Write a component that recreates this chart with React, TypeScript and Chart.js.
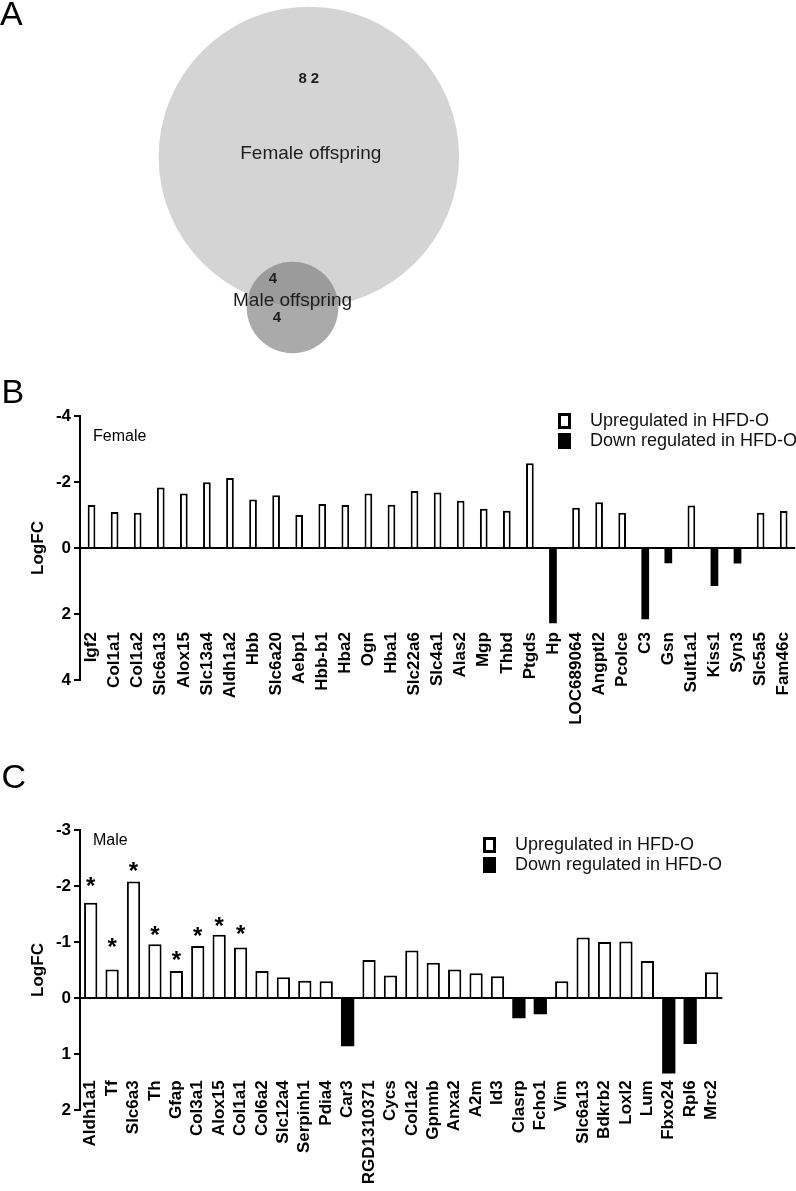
import React, { useEffect, useRef } from 'react';
import { Chart, registerables } from 'chart.js';

Chart.register(...registerables);

const FONT = "'Liberation Sans', Arial, Helvetica, sans-serif";

// ---------- Panel A: Venn diagram ----------
const vennSetNames = ['Female offspring', 'Male offspring'];
const vennUniqueCounts = [82, 4];
const vennSharedCount = 4;
const vennCenterX = [38.8, 36.75];
const vennCenterY = [42.4, 83.1];
const vennColors = ['#d4d4d4', 'rgba(125,125,125,0.65)'];

// ---------- Panel B: Female ----------
const femaleGenes = [
  'Igf2', 'Col1a1', 'Col1a2', 'Slc6a13', 'Alox15', 'Slc13a4', 'Aldh1a2', 'Hbb', 'Slc6a20', 'Aebp1',
  'Hbb-b1', 'Hba2', 'Ogn', 'Hba1', 'Slc22a6', 'Slc4a1', 'Alas2', 'Mgp', 'Thbd', 'Ptgds',
  'Hp', 'LOC689064', 'Angptl2', 'Pcolce', 'C3', 'Gsn', 'Sult1a1', 'Kiss1', 'Syn3', 'Slc5a5', 'Fam46c',
];
const femaleLogFC = [
  -1.30, -1.09, -1.07, -1.83, -1.65, -1.99, -2.12, -1.47, -1.60, -1.00,
  -1.33, -1.30, -1.65, -1.31, -1.73, -1.68, -1.43, -1.19, -1.13, -2.57,
  2.28, -1.22, -1.39, -1.07, 2.16, 0.46, -1.29, 1.15, 0.47, -1.07, -1.12,
];
const femaleYRange = [-4, 4];
const femaleYStep = 2;

// ---------- Panel C: Male ----------
const maleGenes = [
  'Aldh1a1', 'Tf', 'Slc6a3', 'Th', 'Gfap', 'Col3a1', 'Alox15', 'Col1a1', 'Col6a2', 'Slc12a4',
  'Serpinh1', 'Pdia4', 'Car3', 'RGD1310371', 'Cycs', 'Col1a2', 'Gpnmb', 'Anxa2', 'A2m', 'Id3',
  'Clasrp', 'Fcho1', 'Vim', 'Slc6a13', 'Bdkrb2', 'Loxl2', 'Lum', 'Fbxo24', 'Rpl6', 'Mrc2',
];
const maleLogFC = [
  -1.70, -0.51, -2.08, -0.96, -0.48, -0.93, -1.13, -0.90, -0.48, -0.37,
  -0.31, -0.30, 0.86, -0.68, -0.40, -0.85, -0.63, -0.51, -0.44, -0.39,
  0.36, 0.29, -0.30, -1.08, -1.00, -1.01, -0.66, 1.35, 0.82, -0.46,
];
const maleYRange = [-3, 2];
const maleYStep = 1;
const maleStarGenes = ['Aldh1a1', 'Tf', 'Slc6a3', 'Th', 'Gfap', 'Col3a1', 'Alox15', 'Col1a1'];
const maleStarLevels = [-2.08, -0.99, -2.35, -1.20, -0.76, -1.18, -1.36, -1.22];

const seriesLabels = ['Upregulated in HFD-O', 'Down regulated in HFD-O'];

const upOnly = (vals: number[]) => vals.map((v) => (v < 0 ? v : null));
const downOnly = (vals: number[]) => vals.map((v) => (v > 0 ? v : null));

const vennLabelPlugin = {
  id: 'vennLabels',
  afterDatasetsDraw(chart: any) {
    const ctx = chart.ctx;
    const big = chart.getDatasetMeta(0).data[0];
    const small = chart.getDatasetMeta(1).data[0];
    ctx.save();
    ctx.fillStyle = '#1e1e1e';
    ctx.textAlign = 'center';
    ctx.textBaseline = 'middle';
    ctx.font = `bold 15px ${FONT}`;
    (ctx as any).letterSpacing = '4px';
    ctx.fillText(String(vennUniqueCounts[0]), big.x + 2, big.y - 78);
    (ctx as any).letterSpacing = '0px';
    ctx.font = `19px ${FONT}`;
    ctx.fillText(vennSetNames[0], big.x + 2, big.y - 3);
    ctx.font = `bold 15px ${FONT}`;
    ctx.fillText(String(vennSharedCount), small.x - 19.5, small.y - 28.5);
    ctx.font = `19px ${FONT}`;
    ctx.fillText(vennSetNames[1], small.x, small.y - 7);
    ctx.font = `bold 15px ${FONT}`;
    ctx.fillText(String(vennUniqueCounts[1]), small.x - 15.5, small.y + 10.5);
    ctx.restore();
  },
};

type DecorCfg = {
  sexLabel: string;
  sexDx: number;
  sexDy: number;
  legendDx: number;
  legendDy: number;
  stars?: { genes: string[]; levels: number[] };
};

const makeDecorPlugin = (cfg: DecorCfg) => ({
  id: 'panelDecor',
  afterDatasetsDraw(chart: any) {
    const { ctx, chartArea, scales } = chart;
    ctx.save();
    // sex label
    ctx.fillStyle = '#000';
    ctx.font = `16px ${FONT}`;
    ctx.textAlign = 'left';
    ctx.textBaseline = 'middle';
    ctx.fillText(cfg.sexLabel, chartArea.left + cfg.sexDx, chartArea.top + cfg.sexDy);

    // legend
    const lx = chartArea.right + cfg.legendDx;
    const ly = chartArea.top + cfg.legendDy;
    chart.data.datasets.forEach((ds: any, i: number) => {
      const y = ly + i * 20;
      const w = 13;
      const h = 16;
      if (ds.backgroundColor === '#fff') {
        ctx.fillStyle = '#fff';
        ctx.fillRect(lx, y, w, h);
        ctx.strokeStyle = '#000';
        ctx.lineWidth = 3;
        ctx.strokeRect(lx + 1.5, y + 1.5, w - 3, h - 3);
      } else {
        ctx.fillStyle = ds.backgroundColor;
        ctx.fillRect(lx, y, w, h);
      }
      ctx.fillStyle = '#111';
      ctx.font = `18px ${FONT}`;
      ctx.textAlign = 'left';
      ctx.textBaseline = 'middle';
      ctx.fillText(ds.label, lx + 32, y + h / 2);
    });

    // significance stars
    if (cfg.stars) {
      ctx.font = `bold 24px ${FONT}`;
      ctx.fillStyle = '#000';
      ctx.textAlign = 'center';
      ctx.textBaseline = 'alphabetic';
      const m = ctx.measureText('*');
      const shift = (m.actualBoundingBoxAscent - m.actualBoundingBoxDescent) / 2;
      const labels: string[] = chart.data.labels;
      cfg.stars.genes.forEach((g, i) => {
        const idx = labels.indexOf(g);
        if (idx < 0) return;
        const x = scales.x.getPixelForValue(idx);
        const y = scales.y.getPixelForValue(cfg.stars!.levels[i]);
        ctx.fillText('*', x, y + shift);
      });
    }
    ctx.restore();
  },
});

function barConfig(
  genes: string[],
  values: number[],
  yRange: number[],
  yStep: number,
  labelAnchor: number,
  barPct: number,
  padding: { top: number; bottom: number; left: number; right: number },
  decor: DecorCfg,
): any {
  const tickFont = { family: FONT, size: 17, weight: 'bold' as const };
  return {
    type: 'bar',
    data: {
      labels: genes,
      datasets: [
        {
          label: seriesLabels[0],
          data: upOnly(values),
          backgroundColor: '#fff',
          borderColor: '#000',
          borderWidth: 2,
          grouped: false,
          barPercentage: barPct,
          categoryPercentage: 1,
        },
        {
          label: seriesLabels[1],
          data: downOnly(values),
          backgroundColor: '#000',
          borderColor: '#000',
          borderWidth: 0,
          grouped: false,
          barPercentage: barPct,
          categoryPercentage: 1,
        },
      ],
    },
    options: {
      responsive: false,
      animation: false,
      events: [],
      layout: { padding },
      plugins: { legend: { display: false }, tooltip: { enabled: false } },
      scales: {
        x: {
          type: 'category',
          position: { y: labelAnchor },
          offset: true,
          afterFit: (s: any) => {
            s.paddingLeft = 0;
            s.paddingRight = 0;
          },
          grid: { display: false, drawTicks: false },
          border: { display: false },
          ticks: {
            autoSkip: false,
            minRotation: 90,
            maxRotation: 90,
            padding: 0,
            color: '#000',
            font: tickFont,
          },
        },
        y: {
          type: 'linear',
          reverse: true,
          min: yRange[0],
          max: yRange[1],
          z: 1,
          afterFit: (s: any) => {
            s.width = 80;
          },
          ticks: { stepSize: yStep, color: '#000', font: tickFont, padding: 3 },
          grid: {
            drawOnChartArea: true,
            drawTicks: true,
            tickLength: 6,
            tickColor: '#000',
            tickWidth: 2,
            lineWidth: 2,
            color: (c: any) => (c.tick && c.tick.value === 0 ? '#000' : 'rgba(0,0,0,0)'),
          },
          border: { display: true, color: '#000', width: 2 },
          title: {
            display: true,
            text: 'LogFC',
            color: '#000',
            font: tickFont,
            padding: { top: 28, bottom: 0 },
          },
        },
      },
    },
    plugins: [makeDecorPlugin(decor)],
  };
}

export default function App() {
  const aRef = useRef<HTMLCanvasElement>(null);
  const bRef = useRef<HTMLCanvasElement>(null);
  const cRef = useRef<HTMLCanvasElement>(null);

  useEffect(() => {
    const rPerSqrtGene = 16.2;
    const venn = new Chart(aRef.current as HTMLCanvasElement, {
      type: 'bubble',
      data: {
        datasets: vennSetNames.map((name, i) => ({
          label: name,
          data: [
            {
              x: vennCenterX[i],
              y: vennCenterY[i],
              r: rPerSqrtGene * Math.sqrt(vennUniqueCounts[i] + vennSharedCount),
            },
          ],
          backgroundColor: vennColors[i],
          borderWidth: 0,
          clip: false,
          order: vennSetNames.length - i,
        })),
      },
      options: {
        responsive: false,
        animation: false,
        events: [],
        layout: { padding: 0, autoPadding: false },
        plugins: { legend: { display: false }, tooltip: { enabled: false } },
        scales: {
          x: { display: false, min: 0, max: 100 },
          y: { display: false, min: 0, max: 100, reverse: true },
        },
      },
      plugins: [vennLabelPlugin],
    } as any);

    const female = new Chart(
      bRef.current as HTMLCanvasElement,
      barConfig(femaleGenes, femaleLogFC, femaleYRange, femaleYStep, 2.55, 0.334,
        { top: 36, bottom: 60, left: 0, right: 0.8 },
        { sexLabel: 'Female', sexDx: 13, sexDy: 21, legendDx: -237.2, legendDy: -3 }),
    );

    const male = new Chart(
      cRef.current as HTMLCanvasElement,
      barConfig(maleGenes, maleLogFC, maleYRange, maleYStep, 1.47, 0.62,
        { top: 30, bottom: 81, left: 0, right: 73.7 },
        {
          sexLabel: 'Male', sexDx: 13, sexDy: 11, legendDx: -239.3, legendDy: 7,
          stars: { genes: maleStarGenes, levels: maleStarLevels },
        }),
    );

    return () => {
      venn.destroy();
      female.destroy();
      male.destroy();
    };
  }, []);

  const letter = (t: string, left: number, top: number) => (
    <div
      style={{
        position: 'absolute',
        left,
        top,
        fontFamily: FONT,
        fontSize: 34,
        lineHeight: '34px',
        color: '#000',
      }}
    >
      {t}
    </div>
  );

  return (
    <div style={{ position: 'absolute', left: 0, top: 0, width: 796, height: 1191, background: '#fff', overflow: 'hidden' }}>
      <canvas ref={aRef} width={796} height={370} style={{ position: 'absolute', left: 0, top: 0 }} />
      <canvas ref={bRef} width={796} height={360} style={{ position: 'absolute', left: 0, top: 380 }} />
      <canvas ref={cRef} width={796} height={391} style={{ position: 'absolute', left: 0, top: 800 }} />
      {letter('A', 0, -4)}
      {letter('B', 1.5, 374)}
      {letter('C', 1.6, 759)}
    </div>
  );
}
